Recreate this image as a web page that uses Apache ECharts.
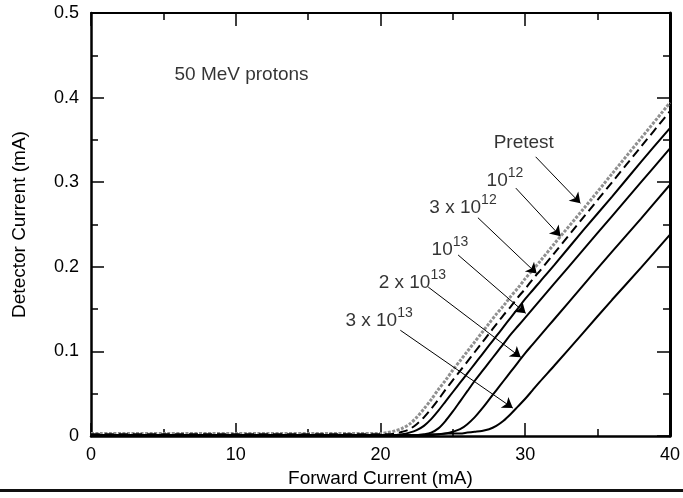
<!DOCTYPE html>
<html><head><meta charset="utf-8">
<script src="https://cdn.jsdelivr.net/npm/echarts@6/dist/echarts.min.js"></script>
<style>html,body{margin:0;padding:0;background:#fff}#c{width:683px;height:498px}</style>
</head><body><div id="c"></div>
<script>
// Forward current (mA) sample points
const forwardCurrent = [0,5,10,15,20,20.5,21,21.5,22,22.5,23,23.5,24,24.5,25,25.5,26,26.5,27,27.5,28,28.5,29,29.5,30,30.5,31,32,34,36,38,40];
// Detector current (mA) per proton fluence
const pretest = [0.003,0.003,0.003,0.003,0.003,0.004,0.006,0.009,0.014,0.022,0.032,0.043,0.055,0.066,0.078,0.089,0.100,0.111,0.122,0.133,0.144,0.154,0.165,0.175,0.186,0.196,0.206,0.227,0.268,0.310,0.352,0.394];
const f1e12   = [0.002,0.002,0.002,0.002,0.002,0.002,0.003,0.005,0.008,0.014,0.022,0.032,0.043,0.055,0.066,0.077,0.088,0.099,0.110,0.121,0.132,0.143,0.153,0.164,0.174,0.185,0.195,0.216,0.258,0.300,0.342,0.384];
const f3e12   = [0.001,0.001,0.001,0.001,0.001,0.001,0.001,0.002,0.004,0.007,0.012,0.020,0.030,0.041,0.052,0.063,0.074,0.085,0.096,0.107,0.118,0.129,0.140,0.151,0.162,0.172,0.182,0.202,0.243,0.283,0.324,0.364];
const f1e13   = [0.001,0.001,0.001,0.001,0.001,0.001,0.001,0.001,0.001,0.001,0.002,0.004,0.009,0.018,0.029,0.041,0.053,0.065,0.076,0.087,0.098,0.109,0.120,0.130,0.140,0.150,0.160,0.180,0.220,0.260,0.300,0.340];
const f2e13   = [0.001,0.001,0.001,0.001,0.001,0.001,0.001,0.001,0.001,0.001,0.001,0.001,0.002,0.003,0.005,0.008,0.014,0.022,0.032,0.043,0.054,0.065,0.076,0.087,0.098,0.108,0.118,0.138,0.178,0.218,0.257,0.297];
const f3e13   = [0.001,0.001,0.001,0.001,0.001,0.001,0.001,0.001,0.001,0.001,0.001,0.002,0.002,0.003,0.003,0.003,0.004,0.005,0.006,0.008,0.012,0.018,0.026,0.035,0.044,0.054,0.064,0.083,0.122,0.161,0.199,0.238];

// Tick values
const xTicks = [0,10,20,30,40];
const yTicks = [0,0.1,0.2,0.3,0.4,0.5];

// Annotations (data coordinates)
const annotTexts = ['50 MeV protons','Pretest','10^12','3 x 10^12','10^13','2 x 10^13','3 x 10^13'];
const annotPos   = [[10.4,0.430],[29.9,0.350],[28.6,0.305],[25.7,0.273],[24.8,0.223],[22.2,0.184],[19.9,0.139]];
const arrowFrom  = [[30.72,0.330],[29.35,0.293],[26.73,0.258],[25.36,0.214],[23.3,0.176],[21.37,0.125]];
const arrowTo    = [[33.81,0.275],[32.44,0.236],[30.79,0.192],[30.03,0.145],[29.69,0.093],[29.14,0.033]];

const FONT = 'Liberation Sans, Arial, Helvetica, sans-serif';
const pair = ys => forwardCurrent.map((x,i)=>[x, ys[i]]);
function richText(t){
  const m = t.match(/^(.*?)10\^(\d+)$/);
  if(!m) return '{n|' + t + '}';
  return (m[1] ? '{n|' + m[1] + '}' : '') + '{n|10}{s|' + m[2] + '}';
}

function axisCommon(pos, showLabel, isX, lw){
  return {
    type:'value', position: pos,
    min: isX ? xTicks[0] : yTicks[0],
    max: isX ? xTicks[xTicks.length-1] : yTicks[yTicks.length-1],
    interval: isX ? 10 : 0.1,
    axisLine:{show:true, onZero:false, lineStyle:{color:'#000', width:lw}},
    axisTick:{show:true, inside:true, length:13, lineStyle:{color:'#000', width:1.5}},
    minorTick:{show:true, splitNumber:2, length:7, lineStyle:{color:'#000', width:1.5}},
    splitLine:{show:false}, minorSplitLine:{show:false},
    axisLabel:{show:showLabel, color:'#000', fontSize:18, fontFamily:FONT, margin: isX?10:12,
      formatter: v => (v===0 ? '0' : (isX ? String(v) : v.toFixed(1)))}
  };
}

const xB = Object.assign(axisCommon('bottom', true, true, 2.5), {name:'Forward Current (mA)', nameLocation:'middle', nameGap:31, nameTextStyle:{fontSize:19, color:'#000', fontFamily:FONT}});
const xT = axisCommon('top', false, true, 2);
const yL = Object.assign(axisCommon('left', true, false, 2.5), {name:'Detector Current (mA)', nameLocation:'middle', nameGap:62, nameTextStyle:{fontSize:19, color:'#000', fontFamily:FONT}});
const yR = axisCommon('right', false, false, 3);

function lineSeries(name, ys, style, z){
  return {name, type:'line', data: pair(ys), showSymbol:false, symbol:'none', smooth:0.3,
    lineStyle: style, xAxisIndex:0, yAxisIndex:0, silent:true, z: z||3};
}

const option = {
  animation:false,
  backgroundColor:'#fff',
  textStyle:{fontFamily:FONT},
  grid:{left:91, right:10, top:13, bottom:62},
  xAxis:[xB, xT],
  yAxis:[yL, yR],
  graphic:[{type:'rect', left:0, top:489, shape:{width:683, height:3}, style:{fill:'#111'}}],
  series:[
    lineSeries('Pretest', pretest, {color:'#8f8f8f', width:3, type:[3,1.5]}, 2),
    lineSeries('1e12', f1e12, {color:'#000', width:2, type:[9,5]}),
    lineSeries('3e12', f3e12, {color:'#000', width:2}),
    lineSeries('1e13', f1e13, {color:'#000', width:2}),
    lineSeries('2e13', f2e13, {color:'#000', width:2}),
    lineSeries('3e13', f3e13, {color:'#000', width:2}),
    {
      type:'scatter', name:'annotations', silent:true, symbolSize:0, z:5,
      data: annotPos.map((p,i)=>({value:p, name:annotTexts[i]})),
      label:{show:true, position:'inside', color:'#000', fontFamily:FONT, fontSize:19,
        formatter: p => richText(p.name),
        rich:{
          n:{fontSize:19, color:'#000', fontFamily:FONT, lineHeight:24, verticalAlign:'bottom'},
          s:{fontSize:14, color:'#000', fontFamily:FONT, lineHeight:24, verticalAlign:'top'}
        }},
      markLine:{
        silent:true, animation:false, symbol:['none','arrow'], symbolSize:10,
        label:{show:false},
        lineStyle:{color:'#000', width:1, type:'solid'},
        data: arrowFrom.map((f,i)=>[{coord:f},{coord:arrowTo[i]}])
      }
    }
  ]
};
const chart = echarts.init(document.getElementById('c'), null, {renderer:'canvas'});
chart.setOption(option);
</script></body></html>
